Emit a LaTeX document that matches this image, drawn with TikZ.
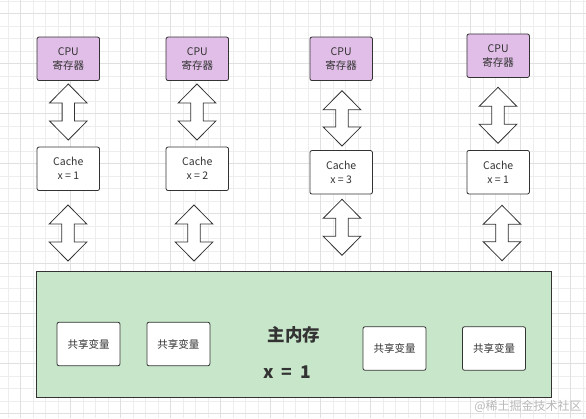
\documentclass[tikz,border=0pt]{standalone}
\usepackage{fontspec}
\setmainfont{Noto Sans CJK SC}
\usetikzlibrary{calc}
\definecolor{cpupurple}{RGB}{225,190,231}
\definecolor{memgreen}{RGB}{200,230,201}
\definecolor{edge}{RGB}{51,51,51}
\newcommand\vdblarrow[2]{%
  \draw[dblarr] let \p1=(#1), \p2=(#2) in
    (\x1,\y1) -- (\x1+18.8pt,\y1-19pt) -- (\x1+6.2pt,\y1-19pt)
    -- (\x1+6.2pt,\y2+19pt) -- (\x1+18.8pt,\y2+19pt) -- (\x1,\y2)
    -- (\x1-18.8pt,\y2+19pt) -- (\x1-6.2pt,\y2+19pt)
    -- (\x1-6.2pt,\y1-19pt) -- (\x1-18.8pt,\y1-19pt) -- cycle;}
\begin{document}
\begin{tikzpicture}[x=1pt,y=-1pt,
  minorgrid/.style={draw=black!7, line width=0.6pt},
  majorgrid/.style={draw=black!12, line width=0.8pt},
  box/.style={draw=edge, line width=0.8pt, rounded corners=2pt,
    minimum width=62.5pt, minimum height=43.5pt, inner sep=0pt,
    align=center, font=\fontsize{10.5}{14}\selectfont, text=edge},
  cpu/.style={box, fill=cpupurple},
  cache/.style={box, fill=white},
  var/.style={box, fill=white, minimum width=63pt, minimum height=43.5pt},
  dblarr/.style={draw=edge, fill=white, line width=0.8pt, line join=miter},
  mem/.style={draw=edge, fill=memgreen, line width=1pt, inner sep=0pt,
    minimum width=514.4pt, minimum height=126pt},
  memtext/.style={font=\fontsize{17.5}{20}\selectfont\bfseries, text=edge}
]
\useasboundingbox (0,0) rectangle (586,418);
\fill[white] (0,0) rectangle (586,418);
% grid
\foreach \k in {0,...,46} {\draw[minorgrid] ({8.2+12.5*\k},0) -- ({8.2+12.5*\k},418);}
\foreach \k in {0,...,33} {\draw[minorgrid] (0,{0.8+12.5*\k}) -- (586,{0.8+12.5*\k});}
\foreach \k in {0,...,11} {\draw[majorgrid] ({20.7+50*\k},0) -- ({20.7+50*\k},418);}
\foreach \k in {0,...,8} {\draw[majorgrid] (0,{13.3+50*\k}) -- (586,{13.3+50*\k});}

% CPU registers
\node[cpu] (cpu1) at (68.3,58.8) {CPU\\寄存器};
\node[cpu] (cpu2) at (197.3,58.8) {CPU\\寄存器};
\node[cpu] (cpu3) at (341.2,58.8) {CPU\\寄存器};
\node[cpu] (cpu4) at (498.2,55.7) {CPU\\寄存器};

% caches
\node[cache] (cache1) at (68.3,168.8) {Cache\\x = 1};
\node[cache] (cache2) at (197.3,168.8) {Cache\\x = 2};
\node[cache] (cache3) at (341.2,172.3) {Cache\\x = 3};
\node[cache] (cache4) at (498.2,172.2) {Cache\\x = 1};

% main memory
\node[mem] (mem) at (293.8,334) {};
\node[memtext] (memtitle) at (294,335) {主内存};
\node[memtext] (memx) at (287,372) {x\hspace{0.45em}=\hspace{0.45em}1};
\node[var] (var1) at (88.5,344) {共享变量};
\node[var] (var2) at (178.4,344) {共享变量};
\node[var] (var3) at (394.5,348.5) {共享变量};
\node[var] (var4) at (494,348.5) {共享变量};

% arrow end points
\coordinate (a1t) at (68.3,84);   \coordinate (a1b) at (68.3,140);
\coordinate (a2t) at (197,84);    \coordinate (a2b) at (197,140);
\coordinate (a3t) at (342,90.7);  \coordinate (a3b) at (342,146);
\coordinate (a4t) at (498,87.3);  \coordinate (a4b) at (498,143.3);
\coordinate (b1t) at (68,205);    \coordinate (b1b) at (68,261);
\coordinate (b2t) at (194,205);   \coordinate (b2b) at (194,261);
\coordinate (b3t) at (342,199.3); \coordinate (b3b) at (342,255.3);
\coordinate (b4t) at (502,205.3); \coordinate (b4b) at (502,260.7);
\vdblarrow{a1t}{a1b}
\vdblarrow{a2t}{a2b}
\vdblarrow{a3t}{a3b}
\vdblarrow{a4t}{a4b}
\vdblarrow{b1t}{b1b}
\vdblarrow{b2t}{b2b}
\vdblarrow{b3t}{b3b}
\vdblarrow{b4t}{b4b}

% watermark
\node[font=\fontsize{12}{14}\selectfont, text=black!28, inner sep=0pt] (wm) at (528,406) {@稀土掘金技术社区};
\end{tikzpicture}
\end{document}
